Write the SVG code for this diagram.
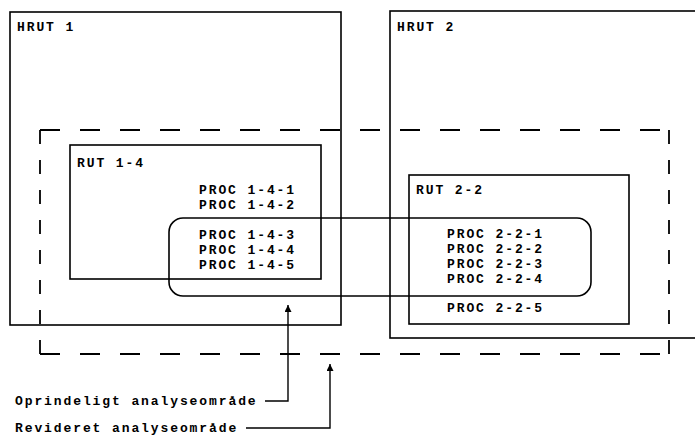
<svg xmlns="http://www.w3.org/2000/svg" width="695" height="437" viewBox="0 0 695 437">
<style>
.box{fill:none;stroke:#000;stroke-width:1.6}
.dh{fill:none;stroke:#000;stroke-width:1.8;stroke-dasharray:20 20}
.dv{fill:none;stroke:#000;stroke-width:1.8;stroke-dasharray:14 16}
.ln{fill:none;stroke:#000;stroke-width:1.4}
text{font-family:"Liberation Mono","DejaVu Sans Mono",monospace;font-weight:bold;font-size:13px;letter-spacing:1.9px;fill:#000}
</style>
<defs>
<marker id="ah" viewBox="0 0 10 10" refX="10" refY="5" markerWidth="8" markerHeight="7" orient="auto" markerUnits="userSpaceOnUse">
<path d="M0,0 L10,5 L0,10 Z" fill="#000"/>
</marker>
</defs>
<rect width="695" height="437" fill="#fff"/>
<g id="hrut1"><rect class="box" x="10" y="12" width="331" height="313"/><text x="17" y="31">HRUT 1</text></g>
<g id="hrut2"><rect class="box" x="390" y="11" width="320" height="327"/><text x="397" y="31">HRUT 2</text></g>
<g id="revideret">
<line class="dh" x1="40" y1="130" x2="669" y2="130"/>
<line class="dh" x1="40" y1="354" x2="669" y2="354"/>
<line class="dv" x1="40" y1="130" x2="40" y2="354"/>
<line class="dv" x1="669" y1="130" x2="669" y2="354"/>
</g>
<g id="rut14"><rect class="box" x="70" y="145" width="251" height="134"/><text x="77" y="167">RUT 1-4</text>
<text x="199" y="194">PROC 1-4-1</text><text x="199" y="209">PROC 1-4-2</text>
<text x="199" y="239">PROC 1-4-3</text><text x="199" y="254">PROC 1-4-4</text><text x="199" y="269">PROC 1-4-5</text></g>
<g id="rut22"><rect class="box" x="409" y="175" width="220" height="149"/><text x="416" y="194">RUT 2-2</text>
<text x="447" y="238">PROC 2-2-1</text><text x="447" y="253">PROC 2-2-2</text><text x="447" y="268">PROC 2-2-3</text><text x="447" y="283">PROC 2-2-4</text><text x="447" y="312">PROC 2-2-5</text></g>
<g id="oprindeligt"><rect class="box" x="169" y="218" width="422" height="78" rx="14" ry="14"/></g>
<g id="connectors">
<polyline class="ln" points="265,401 288,401 288,305" marker-end="url(#ah)"/>
<polyline class="ln" points="246,428 330,428 330,364" marker-end="url(#ah)"/>
</g>
<g id="labels">
<text x="15" y="405">Oprindeligt analyseområde</text>
<text x="15" y="432">Revideret analyseområde</text>
</g>
</svg>
